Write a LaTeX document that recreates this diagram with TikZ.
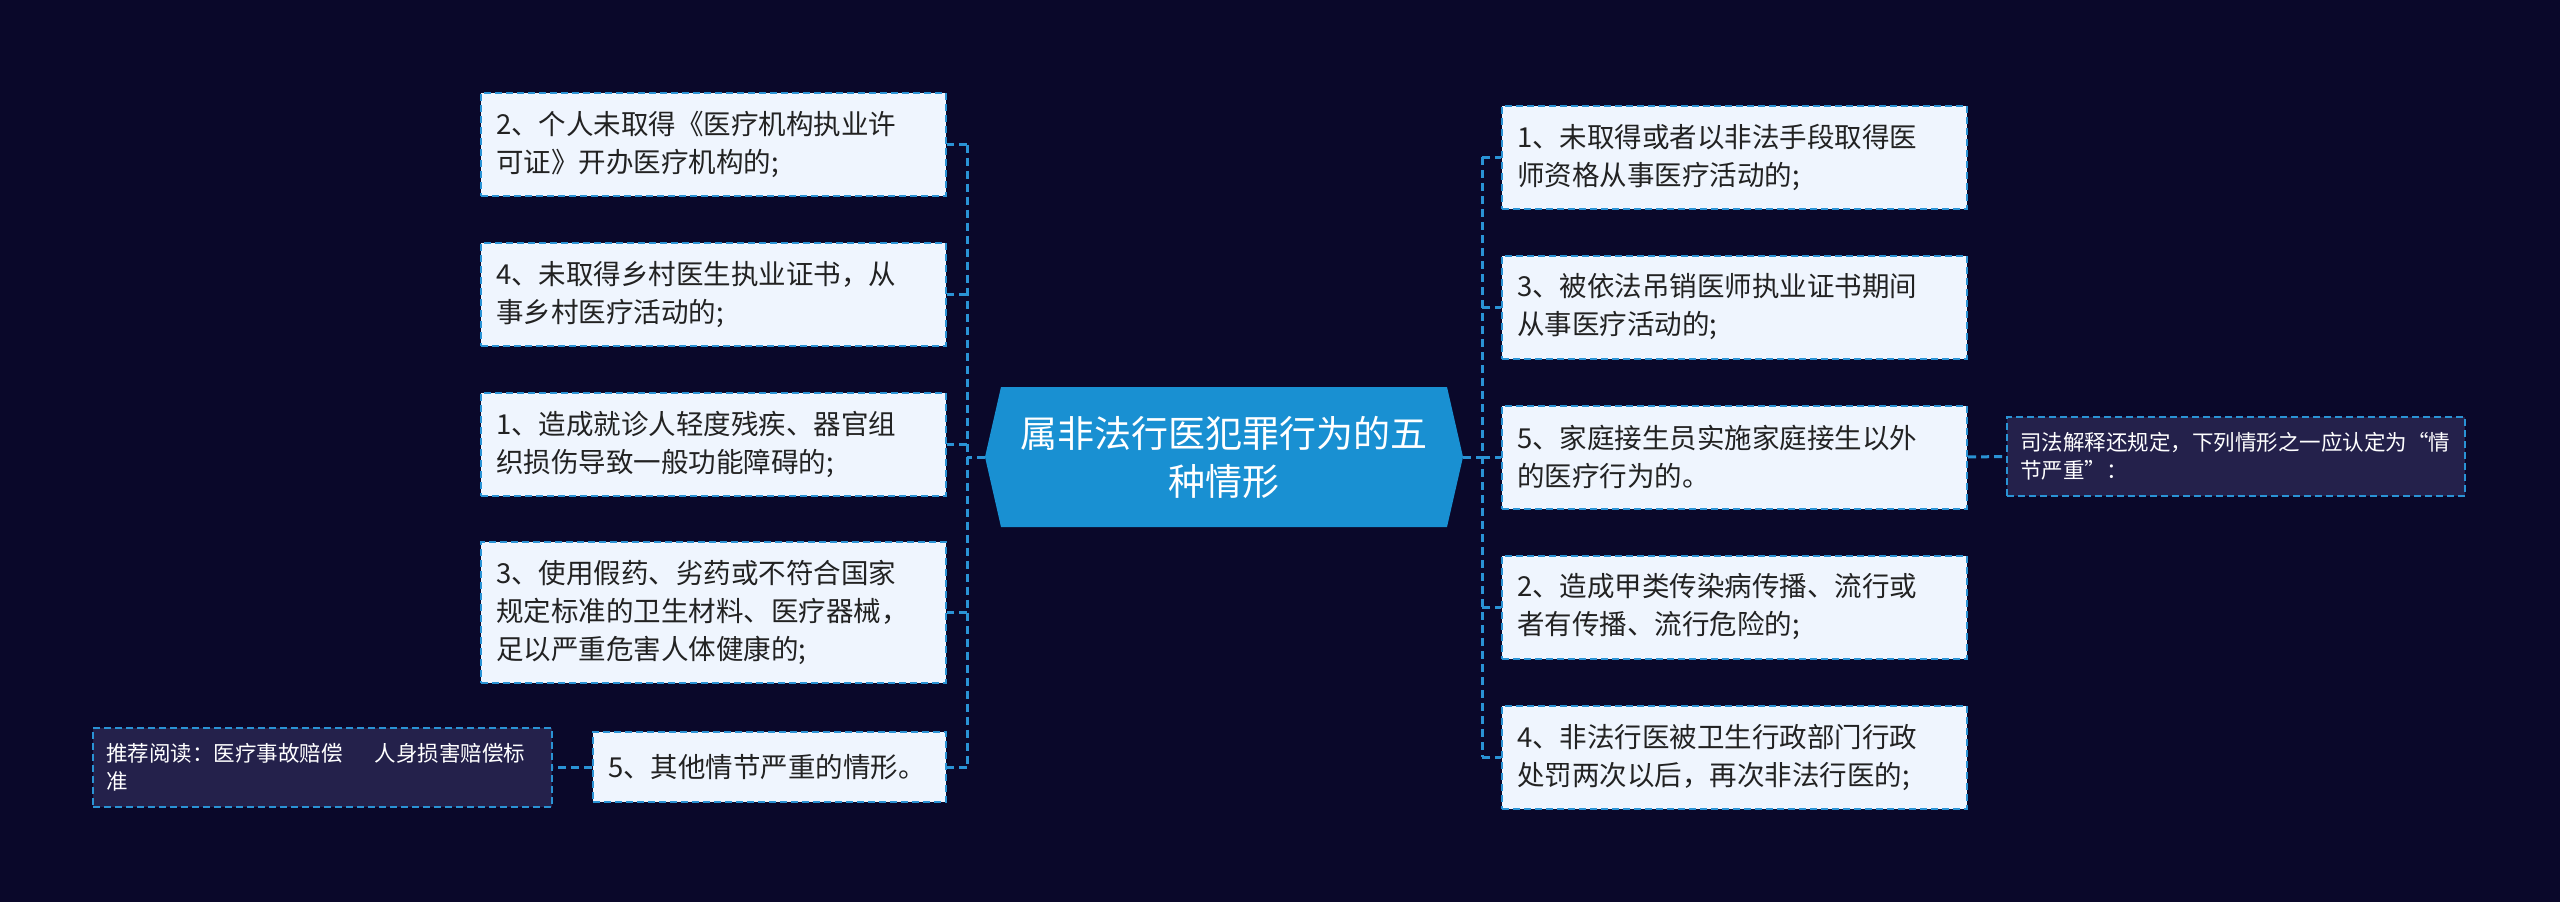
\documentclass[tikz,border=0pt]{standalone}
\usepackage{fontspec}
\setmainfont{Noto Sans CJK SC}
\definecolor{bg}{HTML}{0A082A}
\definecolor{lineblue}{HTML}{2A93D5}
\definecolor{boxfill}{HTML}{EFF5FE}
\definecolor{txt}{HTML}{222222}
\definecolor{hubfill}{HTML}{1990D2}
\definecolor{notefill}{HTML}{24214B}
\begin{document}
\begin{tikzpicture}[x=1pt,y=-1pt,
  box/.style={draw=lineblue, fill=boxfill, line width=2pt, dash pattern=on 7pt off 4pt,
    text=txt, align=left, font=\fontsize{27.5}{38}\selectfont,
    inner xsep=15pt, inner ysep=0pt, text width=435pt, minimum height=103pt},
  notebox/.style={draw=lineblue, fill=notefill, line width=2pt, dash pattern=on 7pt off 4pt,
    text=white, align=left, font=\fontsize{21.5}{28}\selectfont,
    inner xsep=13pt, inner ysep=0pt, minimum height=79pt},
  conn/.style={draw=lineblue, line width=3pt, dash pattern=on 8pt off 5pt}]
\fill[bg] (0,0) rectangle (2560,902);
\useasboundingbox (0,0) rectangle (2560,902);

% hub
\fill[hubfill] (985,457) -- (1001,387) -- (1447,387) -- (1463,457) -- (1447,527) -- (1001,527) -- cycle;
\node[text=white, align=center, font=\fontsize{37}{48}\selectfont] (hub) at (1224,457) {属非法行医犯罪行为的五\\种情形};
\coordinate (hubL) at (985,457);
\coordinate (hubR) at (1463,457);
\coordinate (lj) at (967,457);
\coordinate (rj) at (1482,457);

% left boxes
\node[box] (L2) at (713.5,144.5) {2、个人未取得《医疗机构执业许\\可证》开办医疗机构的;};
\node[box] (L4) at (713.5,294.5) {4、未取得乡村医生执业证书，从\\事乡村医疗活动的;};
\node[box] (L1) at (713.5,444.5) {1、造成就诊人轻度残疾、器官组\\织损伤导致一般功能障碍的;};
\node[box, minimum height=141pt] (L3) at (713.5,612.5) {3、使用假药、劣药或不符合国家\\规定标准的卫生材料、医疗器械，\\足以严重危害人体健康的;};
\node[box, text width=323pt, minimum height=70pt] (L5) at (769.5,767) {5、其他情节严重的情形。};
\node[notebox, text width=433pt] (NL) at (322.5,767) {推荐阅读：医疗事故赔偿\kern1.5em 人身损害赔偿标\\准};

% right boxes
\node[box] (R1) at (1734.5,157) {1、未取得或者以非法手段取得医\\师资格从事医疗活动的;};
\node[box] (R3) at (1734.5,307) {3、被依法吊销医师执业证书期间\\从事医疗活动的;};
\node[box] (R5) at (1734.5,457) {5、家庭接生员实施家庭接生以外\\的医疗行为的。};
\node[box] (R2) at (1734.5,607) {2、造成甲类传染病传播、流行或\\者有传播、流行危险的;};
\node[box] (R4) at (1734.5,757) {4、非法行医被卫生行政部门行政\\处罚两次以后，再次非法行医的;};
\node[notebox, text width=432pt] (NR) at (2236,456.5) {司法解释还规定，下列情形之一应认定为“情\\节严重”：};

% connectors
\draw[conn] (hubL) -- (lj);
\draw[conn] (L2.east -| lj) -- (L5.east -| lj);
\foreach \n in {L2,L4,L1,L3,L5} \draw[conn] (\n.east -| lj) -- (\n.east);
\draw[conn] (hubR) -- (rj);
\draw[conn] (R1.west -| rj) -- (R4.west -| rj);
\foreach \n in {R1,R3,R5,R2,R4} \draw[conn] (\n.west -| rj) -- (\n.west);
\draw[conn] (L5.west) -- (NL.east);
\draw[conn] (R5.east) -- (NR.west);
\end{tikzpicture}
\end{document}
